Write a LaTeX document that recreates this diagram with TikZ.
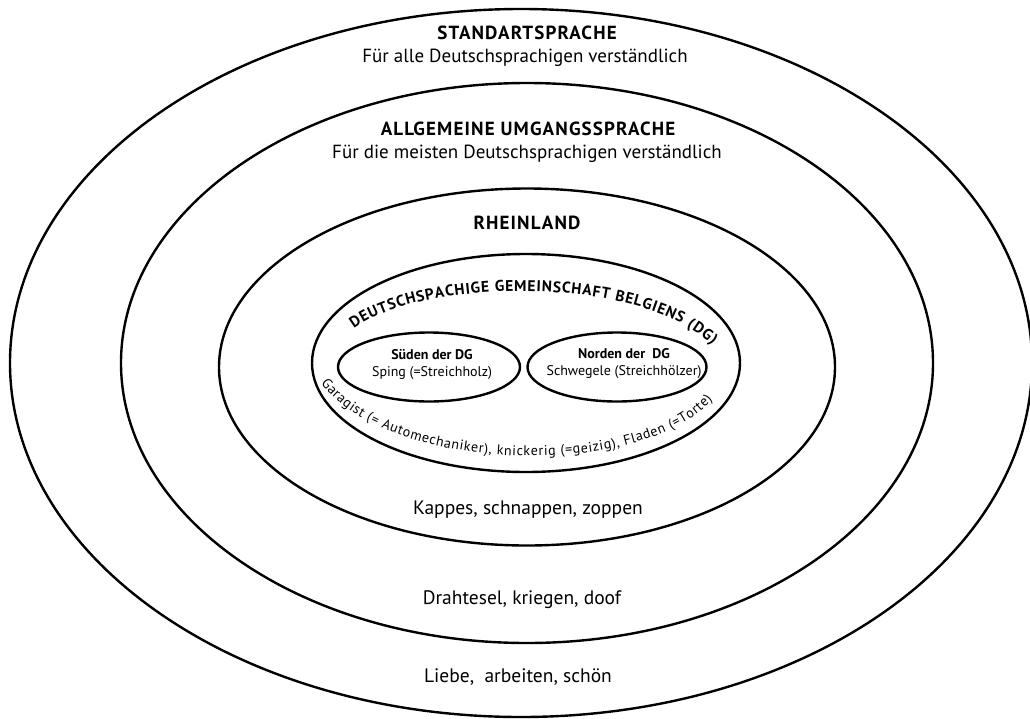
\documentclass[tikz,border=0pt]{standalone}
\usepackage{fontspec}
\setmainfont{PT Sans}
\usetikzlibrary{shapes.geometric,decorations.text}

\begin{document}
\begin{tikzpicture}[x=1pt, y=-1pt,
    ring/.style={draw, ellipse, line width=2.4pt, inner sep=0pt},
    head/.style={font=\fontsize{19}{21}\selectfont\bfseries\addfontfeatures{LetterSpace=6}},
    sub/.style={font=\fontsize{19}{21}\selectfont},
    words/.style={font=\fontsize{19.5}{21}\selectfont},
    small/.style={font=\fontsize{14}{17}\selectfont, align=center}
]
\useasboundingbox (0,0) rectangle (1030,718);

% the rings, outside in
\node[ring, minimum width=1022pt, minimum height=708pt] (std) at (521,363) {};
\node[ring, minimum width=812pt, minimum height=560pt] (ugs) at (527,363) {};
\node[ring, minimum width=616pt, minimum height=357pt] (rhl) at (527,367) {};
\node[ring, minimum width=428pt, minimum height=218pt] (dg) at (526,363) {};
\node[ring, minimum width=182pt, minimum height=69pt] (sued) at (429,367) {};
\node[ring, minimum width=179pt, minimum height=69pt] (nord) at (617,367) {};

% labels
\node[head] (stdT) at (527,33) {STANDARTSPRACHE};
\node[sub] (stdS) at (525,58) {Für alle Deutschsprachigen verständlich};
\node[head] (ugsT) at (528,129) {ALLGEMEINE UMGANGSSPRACHE};
\node[sub] (ugsS) at (527,154) {Für die meisten Deutschsprachigen verständlich};
\node[head] (rhlT) at (527,223) {RHEINLAND};

\node[small] (suedT) at (432,364) {\textbf{Süden der DG}\\Sping (=Streichholz)};
\node[small] (nordT) at (624,364) {\textbf{Norden der~~DG}\\Schwegele (Streichhölzer)};

\node[words] (rhlW) at (528,510) {Kappes, schnappen, zoppen};
\node[words] (ugsW) at (522,600) {Drahtesel, kriegen, doof};
\node[words] (stdW) at (518,677) {Liebe,~~arbeiten, schön};

% curved texts in the DG ring
\path[decorate, decoration={text along path, text align=fit to path,
    text={|\fontsize{15.5}{18}\selectfont\bfseries|DEUTSCHSPACHIGE GEMEINSCHAFT BELGIENS (DG)}}]
  (354,329) .. controls (420,278) and (640,274) .. (712,345);
\path[decorate, decoration={text along path, text align=fit to path,
    text={|\fontsize{14}{17}\selectfont|Garagist (= Automechaniker), knickerig (=geizig), Fladen (=Torte)}}]
  (321,383) .. controls (390,474) and (640,480) .. (712,400);
\end{tikzpicture}
\end{document}
